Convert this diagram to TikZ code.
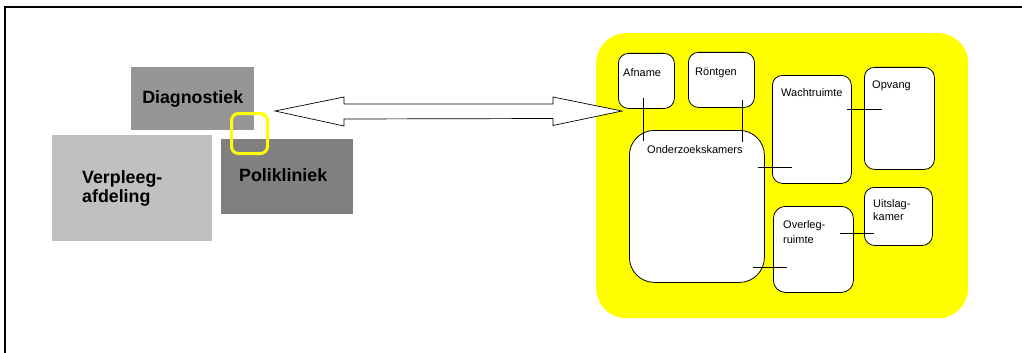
\documentclass[tikz,border=0pt]{standalone}
\usepackage{fontspec}
\setmainfont{Liberation Sans}
\definecolor{diaggray}{RGB}{150,150,150}
\definecolor{verplgray}{RGB}{192,192,192}
\definecolor{poligray}{RGB}{128,128,128}
\definecolor{signyellow}{RGB}{255,255,0}
\begin{document}
\begin{tikzpicture}[x=1pt,y=-1pt,
  dept/.style={rectangle,inner sep=0pt,anchor=north west},
  depttext/.style={font=\fontsize{17.8}{19}\selectfont\bfseries,inner sep=0pt,align=left},
  room/.style={draw,fill=white,line width=0.8pt,rounded corners=10pt,inner sep=0pt,anchor=north west},
  roomtext/.style={font=\fontsize{11}{13.5}\selectfont,inner sep=0pt,anchor=west,align=left},
  link/.style={line width=0.7pt}]

\useasboundingbox (0,0) rectangle (1022,353);

%FRAME
\draw[line width=1.5pt] (1022,7) -- (5,7) -- (5,353);

%DEPARTMENTS
\node[dept,fill=diaggray,minimum width=123,minimum height=63] (diag) at (131,67) {};
\node[depttext] (diagtext) at (diag.center) {Diagnostiek};
\node[dept,fill=verplgray,minimum width=160,minimum height=106] (verpl) at (52,135) {};
\node[depttext,anchor=west,font=\fontsize{17.8}{19.5}\selectfont\bfseries] (verpltext) at (82,188.5) {Verpleeg-\\afdeling};
\node[dept,fill=poligray,minimum width=132,minimum height=75] (poli) at (221,139) {};
\node[depttext] (politext) at ([shift={(-4,-1.5)}]poli.center) {Polikliniek};

% yellow marker
\node[draw=signyellow,line width=3pt,rounded corners=7pt,minimum width=36,minimum height=40,inner sep=0pt] (mark) at (249.5,133.5) {};

%WING
\node[dept,fill=signyellow,rounded corners=30pt,minimum width=372,minimum height=285] (wing) at (596,33) {};

%ROOMS
\node[room,minimum width=56,minimum height=55] (afname) at (618,53) {};
\node[roomtext] (afnametext) at ([shift={(5,20)}]afname.north west) {Afname};
\node[room,minimum width=66,minimum height=55] (rontgen) at (688,52) {};
\node[roomtext] (rontgentext) at ([shift={(7,21)}]rontgen.north west) {Röntgen};
\node[room,rounded corners=25pt,minimum width=135,minimum height=152] (onderzoek) at (629,130) {};
\node[roomtext] (onderzoektext) at ([shift={(18,20)}]onderzoek.north west) {Onderzoekskamers};
\node[room,minimum width=79,minimum height=108] (wacht) at (772,75) {};
\node[roomtext] (wachttext) at ([shift={(9,18)}]wacht.north west) {Wachtruimte};
\node[room,minimum width=70,minimum height=102] (opvang) at (864,67) {};
\node[roomtext] (opvangtext) at ([shift={(8,19)}]opvang.north west) {Opvang};
\node[room,minimum width=68,minimum height=58] (uitslag) at (864,187) {};
\node[roomtext,font=\fontsize{11}{13}\selectfont] (uitslagtext) at ([shift={(9,23.5)}]uitslag.north west) {Uitslag-\\kamer};
\node[room,rounded corners=12pt,minimum width=80,minimum height=86] (overleg) at (773,206) {};
\node[roomtext,font=\fontsize{11}{15}\selectfont] (overlegtext) at ([shift={(10,26.5)}]overleg.north west) {Overleg-\\ruimte};

%LINKS
\draw[link] ([shift={(-3,-11)}]afname.south) -- ([shift={(-53.5,11)}]onderzoek.north);
\draw[link] ([shift={(21,-8)}]rontgen.south) -- ([shift={(45.5,12)}]onderzoek.north);
\draw[link] ([shift={(-7,-39)}]onderzoek.east) -- ([shift={(20,38)}]wacht.west);
\draw[link] ([shift={(-5,-20)}]wacht.east) -- ([shift={(18,-9)}]opvang.west);
\draw[link] ([shift={(-12,61)}]onderzoek.east) -- ([shift={(14,18)}]overleg.west);
\draw[link] ([shift={(-14,-16)}]overleg.east) -- ([shift={(10,17)}]uitslag.west);

%ARROW
\coordinate (arrowL) at (275,111);
\coordinate (arrowR) at (622,111);
\draw[fill=white,line width=0.7pt] (arrowL) -- ++(69,-14) -- ++(0,7) -- ([shift={(-69,-7)}]arrowR) -- ++(0,-7)
  -- (arrowR) -- ++(-69,14.5) -- ++(0,-7) -- ([shift={(69,8)}]arrowL) -- ++(0,7) -- cycle;

\end{tikzpicture}
\end{document}
